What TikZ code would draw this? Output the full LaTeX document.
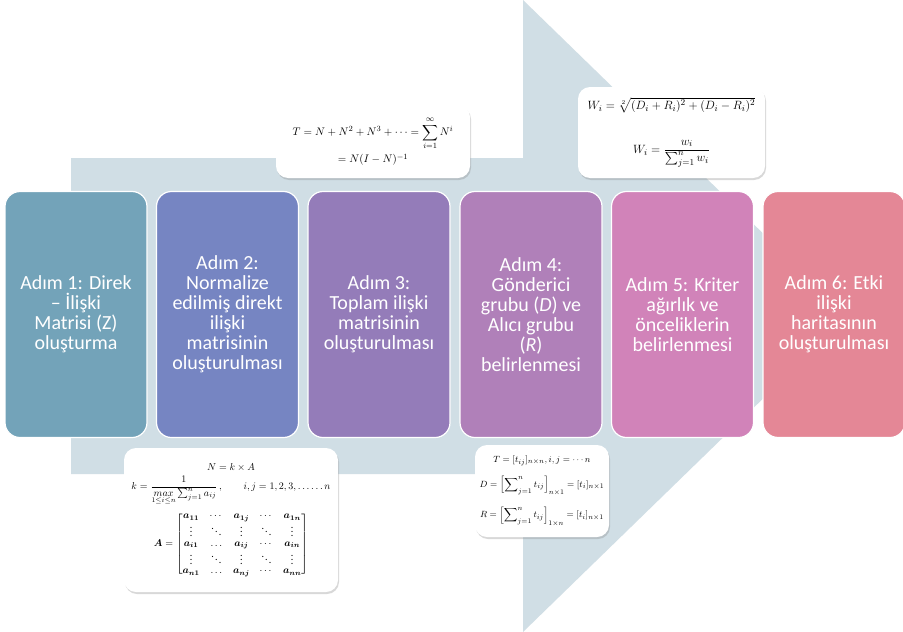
\documentclass[tikz,border=0pt]{standalone}
\usepackage{amsmath, amssymb}
\usepackage[no-math]{fontspec}
\setmainfont{Carlito}
\usetikzlibrary{shadows}
\definecolor{arrowbg}{RGB}{208,222,229}
\definecolor{c1}{RGB}{115,163,185}
\definecolor{c2}{RGB}{118,133,194}
\definecolor{c3}{RGB}{148,124,185}
\definecolor{c4}{RGB}{176,128,185}
\definecolor{c5}{RGB}{209,131,185}
\definecolor{c6}{RGB}{228,135,150}

\begin{document}
\begin{tikzpicture}
  [x=1pt,y=-1pt,
   stepbox/.style={rounded corners=15pt,draw=white,line width=1.2pt,text=white,align=center,
     minimum width=142pt,minimum height=246pt,inner sep=2pt,font=\fontsize{20}{20}\selectfont},
   frm/.style={fill=white,text=black,align=center,rounded corners=12pt,inner sep=2pt,
     drop shadow={opacity=.3,shadow xshift=1pt,shadow yshift=-2pt}}]
  \useasboundingbox (0,0) rectangle (903,632);
  \fill[white] (0,0) rectangle (903,632);
  \fill[arrowbg] (71,158) -- (523,158) -- (523,0) -- (848,316) -- (523,632) -- (523,474) -- (71,474) -- cycle;

  \node[stepbox,fill=c1] (s1) at (76,314.5)    {Adım 1: Direk\\– İlişki\\Matrisi (Z)\\oluşturma};
  \node[stepbox,fill=c2] (s2) at (227.5,314.5) {Adım 2:\\Normalize\\edilmiş direkt\\ilişki\\matrisinin\\oluşturulması};
  \node[stepbox,fill=c3] (s3) at (379,314.5)   {Adım 3:\\Toplam ilişki\\matrisinin\\oluşturulması};
  \node[stepbox,fill=c4] (s4) at (531,314.5)   {Adım 4:\\Gönderici\\grubu (\textit{D}) ve\\Alıcı grubu\\(\textit{R})\\belirlenmesi};
  \node[stepbox,fill=c5] (s5) at (682.5,314.5) {Adım 5: Kriter\\ağırlık ve\\önceliklerin\\belirlenmesi};
  \node[stepbox,fill=c6] (s6) at (834,314.5)   {Adım 6: Etki\\ilişki\\haritasının\\oluşturulması};

  \node[frm,minimum width=194pt,minimum height=73pt,font=\fontsize{11}{13}\selectfont] (f3) at (373,141.5)
    {$T = N + N^2 + N^3 + \cdots = \displaystyle\sum_{i=1}^{\infty} N^{i}$\\[3pt] $= N(I-N)^{-1}$};
  \node[frm,minimum width=187pt,minimum height=91pt,font=\fontsize{12.5}{14}\selectfont] (f5) at (671.5,132.5)
    {$W_i = \sqrt[2]{(D_i+R_i)^2+(D_i-R_i)^2}$\\[26pt] $W_i = \dfrac{w_i}{\sum_{j=1}^{n} w_i}$};
  \node[frm,minimum width=214pt,minimum height=144pt,font=\fontsize{10}{12}\selectfont] (f2) at (231,520)
    {$N = k \times A$\\[4pt]
     $k = \dfrac{1}{\displaystyle\mathop{max}_{1\le i\le n}\textstyle\sum_{j=1}^{n} a_{ij}}\,, \qquad i,j = 1,2,3,\ldots\ldots n$\\[6pt]
     {\renewcommand{\arraystretch}{0.8}$\boldsymbol{A} = \begin{bmatrix}
       \boldsymbol{a_{11}} & \cdots & \boldsymbol{a_{1j}} & \cdots & \boldsymbol{a_{1n}}\\
       \vdots & \ddots & \vdots & \ddots & \vdots\\
       \boldsymbol{a_{i1}} & \ldots & \boldsymbol{a_{ij}} & \cdots & \boldsymbol{a_{in}}\\
       \vdots & \ddots & \vdots & \ddots & \vdots\\
       \boldsymbol{a_{n1}} & \ldots & \boldsymbol{a_{nj}} & \cdots & \boldsymbol{a_{nn}}
     \end{bmatrix}$}};
  \node[frm,minimum width=134pt,minimum height=92pt,font=\fontsize{9.5}{11}\selectfont] (f4) at (542,491)
    {$T = [t_{ij}]_{n\times n}, i,j = \cdots n$\\[10pt]
     $D = \left[\displaystyle\sum\nolimits_{j=1}^{n} t_{ij}\right]_{n\times 1} = [t_i]_{n\times 1}$\\[10pt]
     $R = \left[\displaystyle\sum\nolimits_{j=1}^{n} t_{ij}\right]_{1\times n} = [t_i]_{n\times 1}$};
\end{tikzpicture}
\end{document}
